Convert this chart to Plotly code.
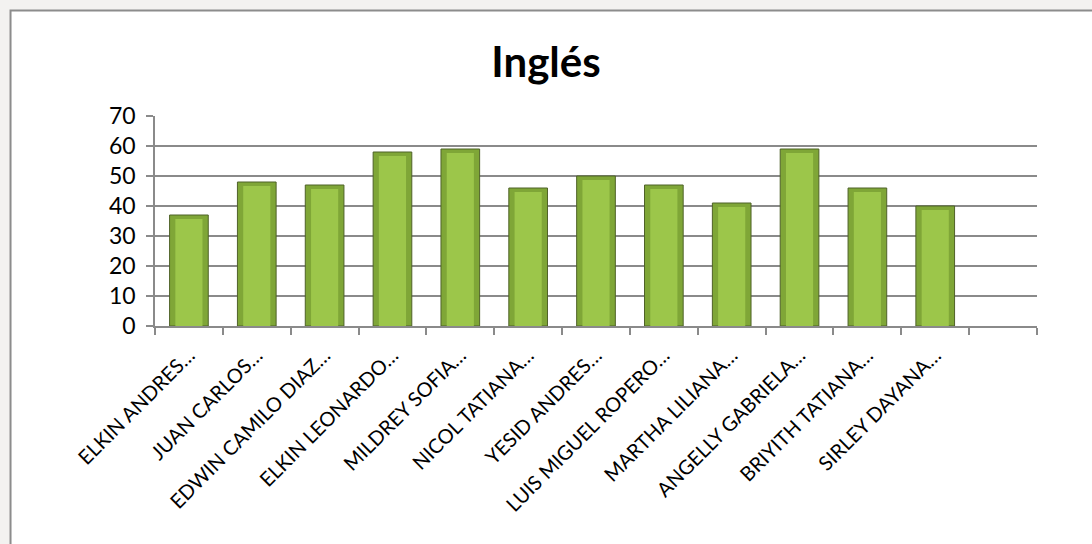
import plotly.graph_objects as go

# datos
alumnos = ["ELKIN ANDRES…", "JUAN CARLOS…", "EDWIN CAMILO DIAZ…", "ELKIN LEONARDO…",
           "MILDREY SOFIA…", "NICOL TATIANA…", "YESID ANDRES…", "LUIS MIGUEL ROPERO…",
           "MARTHA LILIANA…", "ANGELLY GABRIELA…", "BRIYITH TATIANA…", "SIRLEY DAYANA…"]
notas = [37, 48, 47, 58, 59, 46, 50, 47, 41, 59, 46, 40]
y_ticks = [0, 10, 20, 30, 40, 50, 60, 70]

pos = list(range(len(alumnos)))
bevel = [v - 1.3 for v in notas]

fig = go.Figure()
fig.add_trace(go.Bar(x=pos, y=notas, width=0.57, marker=dict(color="#7FA637",
                     line=dict(color="#4F6228", width=1)), hoverinfo="y"))
fig.add_trace(go.Bar(x=pos, y=bevel, width=0.40, marker=dict(color="#9CC64A",
                     line=dict(width=0)), hoverinfo="skip"))

# marco del gráfico (recortado a la derecha y abajo)
fig.add_shape(type="rect", xref="paper", yref="paper", x0=-0.1638, x1=1.2,
              y0=-1.5, y1=1.5024, layer="below",
              line=dict(color="#8C8C8C", width=2), fillcolor="white")

fig.update_layout(
    width=1092, height=544, barmode="overlay", showlegend=False,
    paper_bgcolor="#F3F2F0", plot_bgcolor="rgba(0,0,0,0)",
    font=dict(family="Lato, 'Open Sans', sans-serif", color="black"),
    title=dict(text="<b>Inglés</b>", x=0.5, xanchor="center", y=0.886, yanchor="middle",
               font=dict(size=42, family="Lato, sans-serif", color="black")),
    margin=dict(l=155, r=55, t=116, b=218),
)
fig.update_yaxes(range=[0, 70], tickvals=y_ticks, showgrid=True, gridcolor="#8A8A8A",
                 gridwidth=1.5, showline=True, linecolor="#8A8A8A", linewidth=1.5,
                 ticks="outside", ticklen=7, tickcolor="#8A8A8A", tickwidth=1.5,
                 ticklabelstandoff=6, tickfont=dict(size=23), zeroline=False, fixedrange=True)
fig.update_xaxes(range=[-0.5, 12.5], tickvals=pos, ticktext=alumnos, tickangle=-45,
                 ticks="", tickfont=dict(size=20), showgrid=False, showline=True,
                 linecolor="#8A8A8A", linewidth=1.5, zeroline=False, ticklabelstandoff=8,
                 minor=dict(tickvals=[p - 0.5 for p in range(14)], ticks="outside",
                            ticklen=7, tickcolor="#8A8A8A", tickwidth=1.5, showgrid=False))

fig.write_html("out.html", config={"displayModeBar": False},
               post_script="document.body.style.margin='0';"
               "document.body.style.overflow='hidden';")
